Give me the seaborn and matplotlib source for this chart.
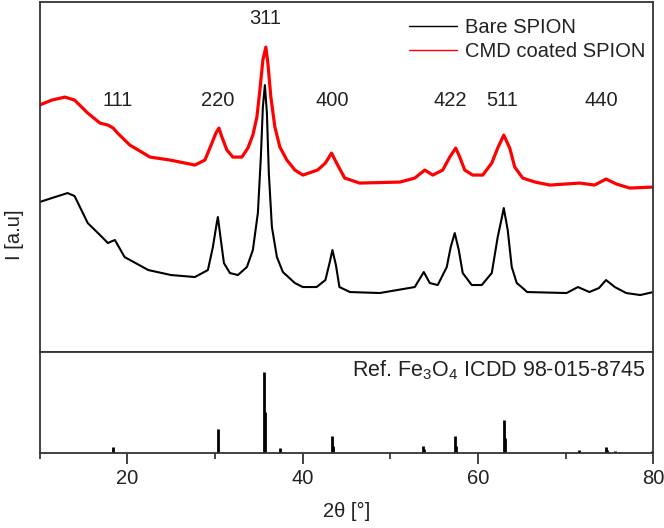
import numpy as np
import pandas as pd
import seaborn as sns
import matplotlib.pyplot as plt

# red: CMD coated SPION (2theta, intensity)
cmd_x = [10.0, 11.4, 12.9, 14.0, 15.5, 16.9, 17.8, 18.4, 18.9, 20.3, 22.6, 24.9, 27.72, 28.86,
         29.66, 30.11, 30.46, 30.80, 31.37, 32.05, 33.08, 33.76, 34.33, 34.79, 35.13, 35.47,
         35.81, 36.04, 36.38, 36.84, 37.41, 38.21, 39.12, 40.03, 41.7, 42.6, 43.3, 44.0, 44.8,
         46.5, 51.1, 52.79, 53.93, 54.84, 55.98, 56.78, 57.46, 57.92, 58.49, 59.40, 60.54,
         61.57, 62.25, 62.94, 63.62, 64.19, 65.10, 66.5, 68.2, 71.6, 73.3, 74.6, 75.8, 77.3, 80.0]
cmd_y = [247, 252, 255, 252, 239, 229, 227, 224, 219, 207, 195, 192, 187, 192,
         209, 219, 224, 215, 202, 195, 195, 204, 217, 235, 262, 292,
         305, 289, 255, 225, 205, 192, 182, 177, 182, 189, 199, 187, 174,
         169, 170, 174, 182, 177, 182, 195, 204, 195, 182, 177, 177,
         189, 204, 217, 204, 185, 174, 170, 167, 169, 167, 173, 168, 164, 165]

# black: bare SPION
bare_x = [10.0, 11.4, 13.2, 14.0, 15.5, 16.9, 17.8, 18.3, 18.6, 19.7, 22.4, 25.0, 27.72, 29.20,
          29.77, 30.23, 30.34, 30.68, 31.03, 31.71, 32.62, 33.65, 34.33, 34.90, 35.24, 35.47,
          35.70, 35.93, 36.15, 36.50, 37.07, 37.75, 39.12, 40.03, 41.6, 42.6, 43.1, 43.4, 43.8,
          44.2, 45.4, 48.8, 52.79, 53.82, 54.50, 55.41, 56.44, 56.89, 57.35, 57.81, 58.26,
          59.29, 60.43, 61.57, 62.25, 62.71, 62.94, 63.39, 63.85, 64.42, 65.10, 65.6, 70.1,
          71.4, 72.7, 73.8, 74.6, 75.6, 76.9, 78.5, 80.0]
bare_y = [150, 154, 159, 156, 129, 117, 109, 111, 112, 95, 82, 77, 75, 82,
          105, 130, 135, 112, 89, 79, 77, 85, 102, 139, 195, 245,
          267, 239, 179, 125, 95, 80, 69, 65, 65, 72, 90, 102, 87,
          65, 60, 59, 65, 80, 69, 67, 85, 105, 119, 102, 79,
          67, 67, 79, 115, 134, 144, 122, 85, 69, 64, 60, 59,
          65, 60, 64, 72, 65, 59, 57, 60]

# reference sticks Fe3O4 ICDD 98-015-8745
ref_pos = [18.4, 30.3, 35.6, 35.75, 37.4, 43.35, 43.5, 53.7, 53.85, 57.35, 57.5, 62.95, 63.1,
           71.5, 74.55, 74.7, 75.6, 79.8]
ref_int = [6, 24, 80, 40, 5, 17, 7, 7, 4, 17, 7, 32, 15, 3, 6, 3, 2, 2]

peak_labels = ['111', '220', '311', '400', '422', '511', '440']
label_x = [18.9, 30.3, 35.7, 43.4, 56.8, 62.8, 74.1]
label_y = [252, 252, 334, 252, 252, 252, 252]

sns.set_theme(style='white')
plt.rcParams['font.family'] = ['Liberation Sans', 'DejaVu Sans']
plt.rcParams['mathtext.fontset'] = 'custom'
plt.rcParams['mathtext.rm'] = 'Liberation Sans'
plt.rcParams['mathtext.it'] = 'Liberation Sans'

fs = 14.5
tc = '#222222'

fig = plt.figure(figsize=(6.64, 5.28), dpi=100)
ax1 = fig.add_axes([0.0595, 0.3333, 0.9245, 0.6627])
ax2 = fig.add_axes([0.0595, 0.1426, 0.9245, 0.1907])

sns.lineplot(x=bare_x, y=bare_y, ax=ax1, color='black', lw=1.5, sort=False, label='Bare SPION')
sns.lineplot(x=cmd_x, y=cmd_y, ax=ax1, color='red', lw=2.3, sort=False, label='CMD coated SPION')

for t, xx, yy in zip(peak_labels, label_x, label_y):
    ax1.text(xx, yy, t, ha='center', va='center', fontsize=fs, color=tc)

leg = ax1.legend(loc='upper right', bbox_to_anchor=(1.0, 0.978), frameon=False, fontsize=fs,
                 handlelength=2.4, borderaxespad=0.0, labelspacing=0.25, handletextpad=0.4)
for h in leg.get_lines():
    h.set_linewidth(1.0)
for t in leg.get_texts():
    t.set_color(tc)

ax1.set_xlim(10, 80)
ax1.set_ylim(0, 350)
ax1.set_xticks([])
ax1.set_yticks([])
ax1.set_xlabel('')
ax1.set_ylabel('')

ax2.vlines(ref_pos, 0, ref_int, color='black', lw=2.0)
ax2.set_xlim(10, 80)
ax2.set_ylim(0, 100)
ax2.set_yticks([])
ax2.set_xticks([20, 40, 60, 80])
ax2.set_xticks([10, 30, 50, 70], minor=True)
ax2.tick_params(axis='x', which='major', direction='out', length=8, width=1.2,
                bottom=True, labelsize=fs, pad=4, colors=tc)
ax2.tick_params(axis='x', which='minor', direction='out', length=4.5, width=1.2, bottom=True)
ax2.text(79.0, 82, r'Ref. Fe$_3$O$_4$ ICDD 98-015-8745', ha='right', va='center',
         fontsize=15.5, color=tc)
ax2.set_xlabel('2θ [°]', fontsize=fs, color=tc, labelpad=10)

for ax in (ax1, ax2):
    for s in ax.spines.values():
        s.set_color('#333333')
        s.set_linewidth(1.3)

fig.text(0.022, 0.555, 'I [a.u]', rotation=90, ha='center', va='center',
         fontsize=fs, color=tc)

fig.savefig('out.png', dpi=100)
